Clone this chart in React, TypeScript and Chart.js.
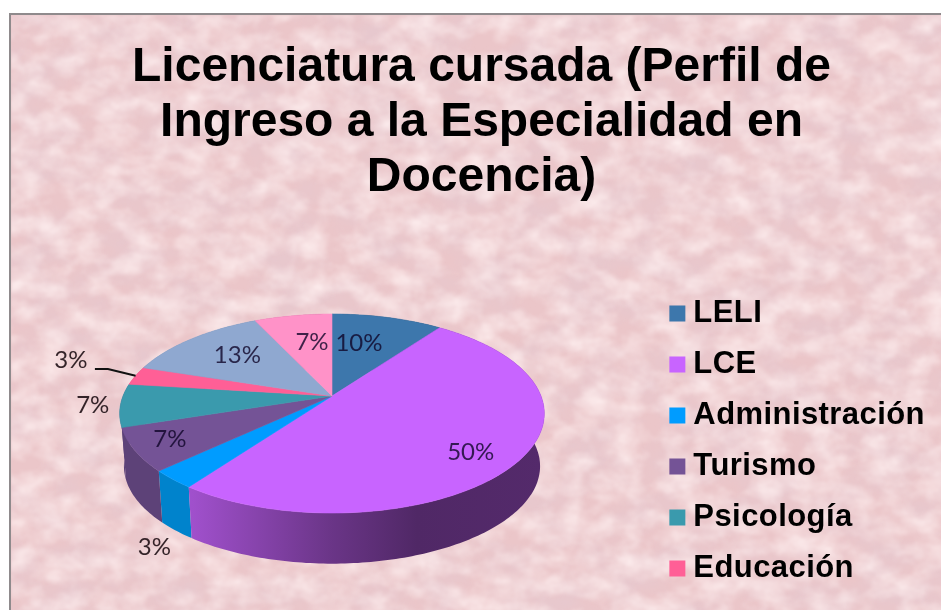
import React, { useEffect, useRef } from "react";
import { Chart, registerables } from "chart.js";

Chart.register(...registerables);

const titleLines = ["Licenciatura cursada (Perfil de", "Ingreso a la Especialidad en", "Docencia)"];
const categories = ["LELI", "LCE", "Administración", "Turismo", "Psicología", "Educación", "Otra A", "Otra B"];
const shares = [10, 50, 3, 7, 7, 3, 13, 7];
const sliceColors = ["#3d77ac", "#c864ff", "#009cff", "#745396", "#3a9aad", "#ff5f96", "#8fa8d0", "#ff92c8"];
const wallColors = ["#3d77ac", "#c864ff", "#00a4ff", "#745396", "#745396", "#ff5f96", "#8fa8d0", "#ff92c8"];
const legendCount = 6;

// label placement, relative to each slice: radius factor on the pie plane and a turn in degrees
const labelRadius = [0.625, 0.8, 1.4, 0.83, 1.13, 1.395, 0.67, 0.63];
const labelTurn = [-4.8, 5.2, -13, 0.7, 0.8, 4, 1.7, 2.9];
const leaderIndex = 5;

// perspective view of the pie
const view = { ax: 332, ay: 396, A: 209, B: 96.4, k: 0.176, drop: 53, shrink: 0.98 };
const wallShade = [[0, 0.8], [0.17, 0.8], [0.5, 0.53], [0.7, 0.4], [1, 0.42]];

function project(theta: number, f: number, bottom: boolean) {
  const u = f * Math.sin(theta);
  const v = -f * Math.cos(theta);
  const w = 1 - view.k * v;
  const s = bottom ? view.shrink : 1;
  return {
    x: view.ax + (s * view.A * u) / w,
    y: view.ay + (bottom ? view.drop : 0) + (s * view.B * v) / w,
  };
}

function shade(hex: string, t: number) {
  const n = parseInt(hex.slice(1), 16);
  const c = [(n >> 16) & 255, (n >> 8) & 255, n & 255].map((x) => Math.round(x * t));
  return `rgb(${c[0]},${c[1]},${c[2]})`;
}

function rim(a: number, b: number, bottom: boolean) {
  const pts = [];
  const steps = Math.max(2, Math.ceil(((b - a) * 180) / Math.PI));
  for (let i = 0; i <= steps; i++) pts.push(project(a + ((b - a) * i) / steps, 1, bottom));
  return pts;
}

const legendSpacing = {
  id: "legendSpacing",
  beforeDraw(chart: any) {
    const legend = chart.legend;
    if (!legend || legend.__spaced) return;
    const original = legend.draw;
    legend.draw = function (...args: any[]) {
      chart.ctx.letterSpacing = "0.42px";
      original.apply(this, args);
      chart.ctx.letterSpacing = "0px";
    };
    legend.__spaced = true;
  },
};

const pie3d = {
  id: "pie3d",
  beforeDatasetsDraw(chart: any) {
    const { ctx } = chart;
    const arcs = chart.getDatasetMeta(0).data;
    const spans = arcs.map((arc: any, i: number) => ({
      i,
      a: arc.startAngle + Math.PI / 2,
      b: arc.endAngle + Math.PI / 2,
    }));
    ctx.save();
    // walls, back to front
    const order = [...spans].sort(
      (p: any, q: any) => -Math.cos((q.a + q.b) / 2) + Math.cos((p.a + p.b) / 2)
    );
    const left = view.ax - 212;
    const right = view.ax + 212;
    order.forEach((s: any) => {
      const top = rim(s.a, s.b, false);
      const low = rim(s.a, s.b, true).reverse();
      const grad = ctx.createLinearGradient(left, 0, right, 0);
      wallShade.forEach(([p, t]) => grad.addColorStop(p, shade(wallColors[s.i], t)));
      ctx.beginPath();
      [...top, ...low].forEach((p, n) => (n ? ctx.lineTo(p.x, p.y) : ctx.moveTo(p.x, p.y)));
      ctx.closePath();
      ctx.fillStyle = grad;
      ctx.fill();
    });
    // top faces
    spans.forEach((s: any) => {
      ctx.beginPath();
      ctx.moveTo(view.ax, view.ay);
      rim(s.a, s.b, false).forEach((p) => ctx.lineTo(p.x, p.y));
      ctx.closePath();
      ctx.fillStyle = sliceColors[s.i];
      ctx.strokeStyle = sliceColors[s.i];
      ctx.lineWidth = 0.6;
      ctx.fill();
      ctx.stroke();
    });
    // value labels
    ctx.font = "24px Lato";
    ctx.textAlign = "center";
    ctx.textBaseline = "middle";
    spans.forEach((s: any) => {
      const mid = (s.a + s.b) / 2 + (labelTurn[s.i] * Math.PI) / 180;
      const p = project(mid, labelRadius[s.i], false);
      const outside = labelRadius[s.i] > 1;
      ctx.fillStyle = outside ? "rgba(35,20,25,0.92)" : "rgba(15,5,40,0.8)";
      ctx.fillText(`${shares[s.i]}%`, p.x, p.y);
      if (s.i === leaderIndex) {
        const end = project((s.a + s.b) / 2, 1, false);
        ctx.beginPath();
        ctx.moveTo(p.x + 24, p.y + 9);
        ctx.lineTo(p.x + 37, p.y + 9);
        ctx.lineTo(end.x, end.y);
        ctx.strokeStyle = "#111";
        ctx.lineWidth = 2;
        ctx.stroke();
      }
    });
    ctx.restore();
    return false;
  },
};

const noise =
  "<svg xmlns='http://www.w3.org/2000/svg' width='941' height='610'>" +
  "<filter id='n' x='0' y='0' width='100%' height='100%'>" +
  "<feTurbulence type='fractalNoise' baseFrequency='.02 .03' numOctaves='6' seed='7'/>" +
  "<feColorMatrix values='0 0 0 0 .80  0 0 0 0 .58  0 0 0 0 .62  1.9 0 0 0 -.62'/>" +
  "<feGaussianBlur stdDeviation='1'/>" +
  "</filter>" +
  "<filter id='m' x='0' y='0' width='100%' height='100%'>" +
  "<feTurbulence type='fractalNoise' baseFrequency='.035 .05' numOctaves='5' seed='21'/>" +
  "<feColorMatrix values='0 0 0 0 1  0 0 0 0 .88  0 0 0 0 .88  0 1.5 0 0 -.5'/>" +
  "<feGaussianBlur stdDeviation='1'/>" +
  "</filter>" +
  "<rect width='941' height='610' fill='#ebc6c9'/>" +
  "<rect width='941' height='610' filter='url(#n)'/>" +
  "<rect width='941' height='610' filter='url(#m)'/>" +
  "</svg>";

export default function App() {
  const ref = useRef<HTMLCanvasElement>(null);
  useEffect(() => {
    document.body.style.margin = "0";
    const chart = new Chart(ref.current as HTMLCanvasElement, {
      type: "pie",
      data: {
        labels: categories,
        datasets: [{ data: shares, backgroundColor: sliceColors, borderWidth: 0 }],
      },
      plugins: [legendSpacing, pie3d],
      options: {
        animation: false,
        responsive: false,
        layout: { padding: { left: 34, right: 12, top: 40, bottom: 6 } },
        plugins: {
          tooltip: { enabled: false },
          title: {
            display: true,
            text: titleLines,
            color: "#000",
            font: { family: "Liberation Sans", size: 48, weight: "bold", lineHeight: 1.15 },
            padding: { top: 0, bottom: 0 },
          },
          legend: {
            position: "right",
            align: "end",
            labels: {
              filter: (item: any) => item.index < legendCount,
              color: "#000",
              font: { family: "Liberation Sans", size: 31, weight: "bold" },
              usePointStyle: true,
              pointStyle: "rect",
              boxWidth: 1,
              boxHeight: 16,
              padding: 20,
            },
          },
        },
      },
    } as any);
    return () => chart.destroy();
  }, []);
  return (
    <div style={{ position: "relative", width: 941, height: 610, overflow: "hidden", background: "#fff" }}>
      <div
        style={{
          position: "absolute",
          left: 9,
          top: 13,
          width: 940,
          height: 610,
          boxSizing: "border-box",
          borderLeft: "2px solid #8f8a8c",
          borderTop: "2px solid #8f8a8c",
          backgroundImage: `url("data:image/svg+xml,${encodeURIComponent(noise)}")`,
        }}
      />
      <canvas ref={ref} width={941} height={610} style={{ position: "absolute", left: 0, top: 0, display: "block" }} />
    </div>
  );
}
